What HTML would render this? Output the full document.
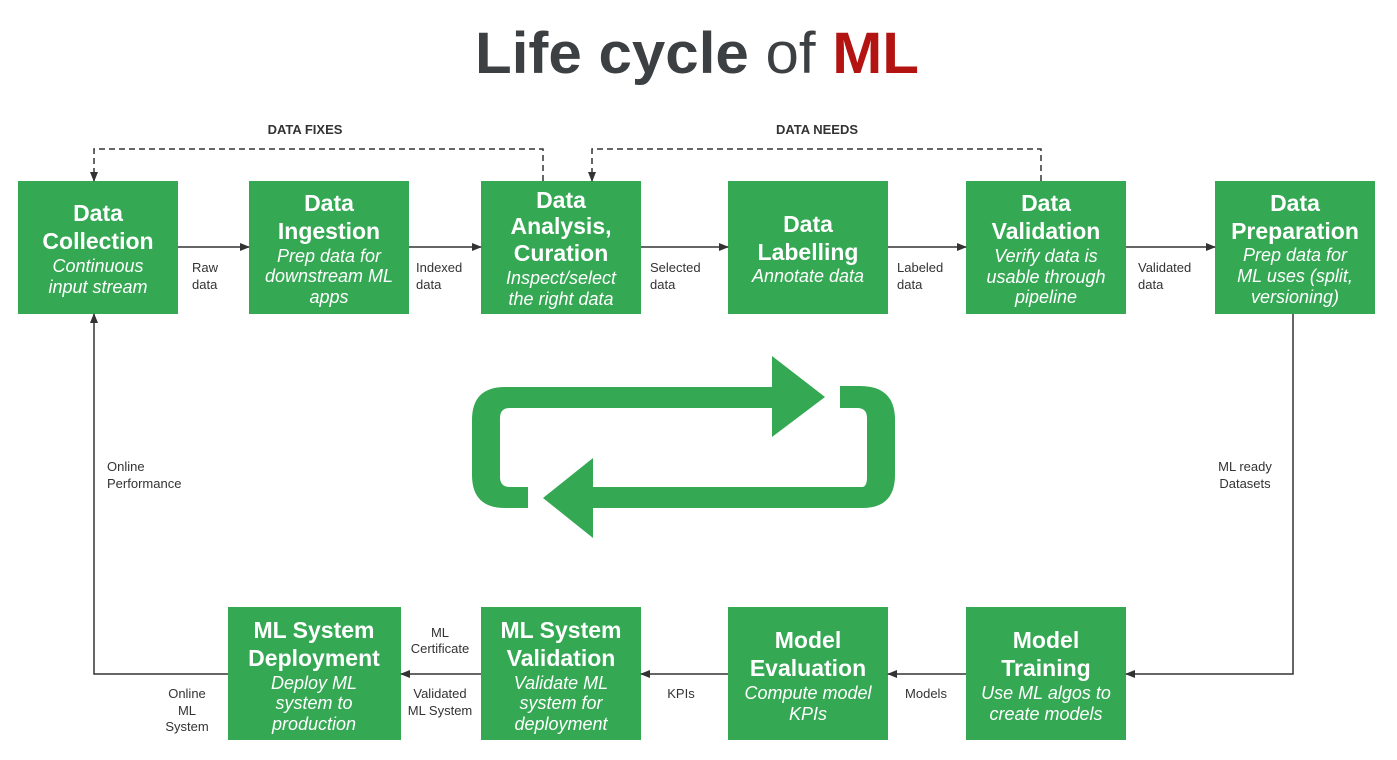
<!DOCTYPE html>
<html><head><meta charset="utf-8"><style>
body{margin:0;background:#fff}
svg{display:block}
.t{font-family:"Liberation Sans",sans-serif;font-weight:bold;font-size:23px;fill:#fff;text-anchor:middle}
.s{font-family:"Liberation Sans",sans-serif;font-style:italic;font-size:18px;fill:#fff;text-anchor:middle}
.l{font-family:"Liberation Sans",sans-serif;font-size:13px;fill:#333}
.c{text-anchor:middle}
.b{font-weight:bold;font-size:13px}
</style></head><body>
<svg width="1397" height="760" viewBox="0 0 1397 760" xmlns="http://www.w3.org/2000/svg">
<defs><marker id="a" markerWidth="10" markerHeight="8" refX="9" refY="4" orient="auto" markerUnits="userSpaceOnUse"><path d="M0,0 L10,4 L0,8 Z" fill="#333"/></marker></defs>
<text x="697" y="73" text-anchor="middle" textLength="444" lengthAdjust="spacingAndGlyphs" font-family="Liberation Sans,sans-serif" font-size="58" font-weight="bold" fill="#3c4043">Life cycle <tspan font-weight="normal">of</tspan> <tspan fill="#b31412">ML</tspan></text>

<g fill="#34a853">
<rect x="18" y="181" width="160" height="133"/><rect x="249" y="181" width="160" height="133"/>
<rect x="481" y="181" width="160" height="133"/><rect x="728" y="181" width="160" height="133"/>
<rect x="966" y="181" width="160" height="133"/><rect x="1215" y="181" width="160" height="133"/>
<rect x="228" y="607" width="173" height="133"/><rect x="481" y="607" width="160" height="133"/>
<rect x="728" y="607" width="160" height="133"/><rect x="966" y="607" width="160" height="133"/>
<path d="M825,397 L772,356 L772,387 L505,387 Q472,387 472,420 L472,475 Q472,508 505,508 L528,508 L528,487 L510,487 Q500,487 500,477 L500,418 Q500,408 510,408 L772,408 L772,437 Z"/>
<path d="M543,498 L593,458 L593,487 L862,487 Q867,487 867,477 L867,418 Q867,408 857,408 L840,408 L840,386 L860,386 Q895,386 895,420 L895,475 Q895,508 862,508 L593,508 L593,538 Z"/>
</g>

<g stroke="#333" stroke-width="1.5" fill="none" marker-end="url(#a)">
<line x1="178" y1="247" x2="249" y2="247"/><line x1="409" y1="247" x2="481" y2="247"/>
<line x1="641" y1="247" x2="728" y2="247"/><line x1="888" y1="247" x2="966" y2="247"/>
<line x1="1126" y1="247" x2="1215" y2="247"/>
<path d="M1293,314 L1293,674 L1126,674"/>
<line x1="966" y1="674" x2="888" y2="674"/><line x1="728" y1="674" x2="641" y2="674"/>
<line x1="481" y1="674" x2="401" y2="674"/>
<path d="M228,674 L94,674 L94,314"/>
<path d="M543,181 L543,149 L94,149 L94,181" stroke-dasharray="6,4"/>
<path d="M1041,181 L1041,149 L592,149 L592,181" stroke-dasharray="6,4"/>
</g>

<text class="l b c" x="305" y="134">DATA FIXES</text>
<text class="l b c" x="817" y="134">DATA NEEDS</text>

<text class="t" x="98" y="221">Data</text><text class="t" x="98" y="249">Collection</text>
<text class="s" x="98" y="272">Continuous</text><text class="s" x="98" y="293">input stream</text>

<text class="t" x="329" y="211">Data</text><text class="t" x="329" y="239">Ingestion</text>
<text class="s" x="329" y="262">Prep data for</text><text class="s" x="329" y="282">downstream ML</text><text class="s" x="329" y="303">apps</text>

<text class="t" x="561" y="208">Data</text><text class="t" x="561" y="234">Analysis,</text><text class="t" x="561" y="261">Curation</text>
<text class="s" x="561" y="284">Inspect/select</text><text class="s" x="561" y="305">the right data</text>

<text class="t" x="808" y="232">Data</text><text class="t" x="808" y="260">Labelling</text>
<text class="s" x="808" y="282">Annotate data</text>

<text class="t" x="1046" y="211">Data</text><text class="t" x="1046" y="239">Validation</text>
<text class="s" x="1046" y="262">Verify data is</text><text class="s" x="1046" y="283">usable through</text><text class="s" x="1046" y="303">pipeline</text>

<text class="t" x="1295" y="211">Data</text><text class="t" x="1295" y="239">Preparation</text>
<text class="s" x="1295" y="261">Prep data for</text><text class="s" x="1295" y="282">ML uses (split,</text><text class="s" x="1295" y="303">versioning)</text>

<text class="t" x="314" y="638">ML System</text><text class="t" x="314" y="666">Deployment</text>
<text class="s" x="314" y="689">Deploy ML</text><text class="s" x="314" y="709">system to</text><text class="s" x="314" y="730">production</text>

<text class="t" x="561" y="638">ML System</text><text class="t" x="561" y="666">Validation</text>
<text class="s" x="561" y="689">Validate ML</text><text class="s" x="561" y="709">system for</text><text class="s" x="561" y="730">deployment</text>

<text class="t" x="808" y="648">Model</text><text class="t" x="808" y="676">Evaluation</text>
<text class="s" x="808" y="699">Compute model</text><text class="s" x="808" y="720">KPIs</text>

<text class="t" x="1046" y="648">Model</text><text class="t" x="1046" y="676">Training</text>
<text class="s" x="1046" y="699">Use ML algos to</text><text class="s" x="1046" y="720">create models</text>

<text class="l" x="192" y="272">Raw</text><text class="l" x="192" y="289">data</text>
<text class="l" x="416" y="272">Indexed</text><text class="l" x="416" y="289">data</text>
<text class="l" x="650" y="272">Selected</text><text class="l" x="650" y="289">data</text>
<text class="l" x="897" y="272">Labeled</text><text class="l" x="897" y="289">data</text>
<text class="l" x="1138" y="272">Validated</text><text class="l" x="1138" y="289">data</text>
<text class="l c" x="1245" y="471">ML ready</text><text class="l c" x="1245" y="488">Datasets</text>
<text class="l c" x="926" y="698">Models</text>
<text class="l c" x="681" y="698">KPIs</text>
<text class="l c" x="440" y="637">ML</text><text class="l c" x="440" y="653">Certificate</text>
<text class="l c" x="440" y="698">Validated</text><text class="l c" x="440" y="715">ML System</text>
<text class="l c" x="187" y="698">Online</text><text class="l c" x="187" y="715">ML</text><text class="l c" x="187" y="731">System</text>
<text class="l" x="107" y="471">Online</text><text class="l" x="107" y="488">Performance</text>
</svg>
</body></html>
